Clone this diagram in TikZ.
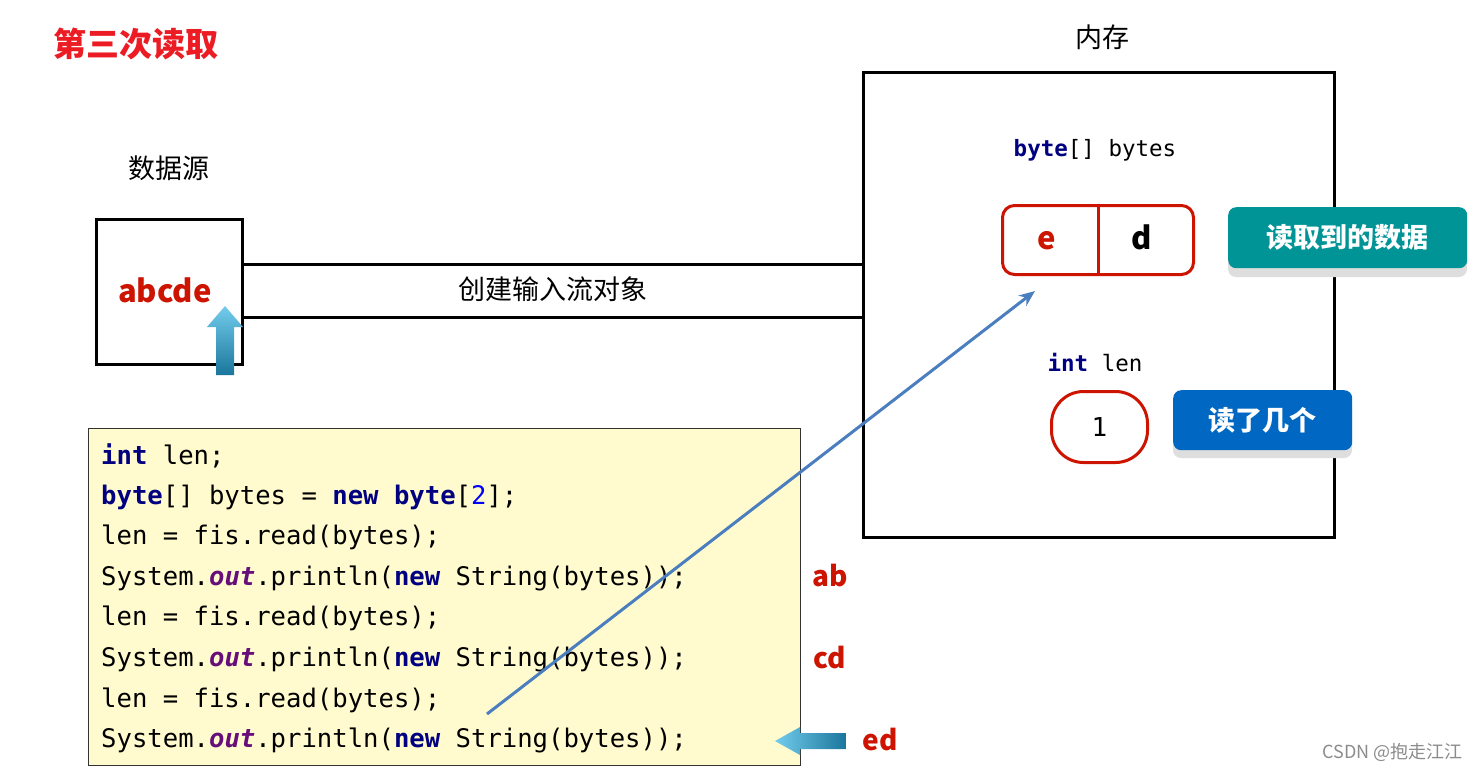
\documentclass[tikz,border=0pt]{standalone}
\usepackage{fontspec}
\setmainfont{Noto Sans CJK SC}
\newfontfamily\monof{DejaVu Sans Mono}
\usetikzlibrary{arrows.meta}
\definecolor{kwblue}{RGB}{0,0,128}
\definecolor{numblue}{RGB}{0,0,255}
\definecolor{outpurple}{RGB}{102,14,122}
\definecolor{codefill}{RGB}{255,251,206}
\definecolor{tealbox}{RGB}{0,148,150}
\definecolor{bluebox}{RGB}{0,104,194}
\definecolor{lineblue}{RGB}{74,126,190}
\definecolor{darkred}{RGB}{204,20,0}
\definecolor{titlered}{RGB}{236,28,36}
\definecolor{arrlight}{RGB}{115,204,236}
\definecolor{arrdark}{RGB}{26,118,156}
\newcommand{\kwd}[1]{{\color{kwblue}\bfseries #1}}
\newcommand{\outk}[1]{{\color{outpurple}\bfseries\itshape #1}}
\tikzset{
  cjktext/.style={font=\fontsize{27}{27}\selectfont, inner sep=0},
  codeline/.style={anchor=west, font=\monof\fontsize{25.6}{25.6}\selectfont, inner sep=0},
  monolabel/.style={font=\monof\fontsize{22.5}{22.5}\selectfont, inner sep=0},
  redlabel/.style={text=darkred, font=\fontsize{28}{28}\selectfont\bfseries, inner sep=0},
  cellchar/.style={anchor=base, font=\fontsize{31}{31}\selectfont\bfseries, inner sep=0},
  tag/.style={rounded corners=8, text=white, font=\fontsize{27}{27}\selectfont\bfseries, inner sep=0},
  shadowbox/.style={fill=black!13, rounded corners=8},
}
\begin{document}
\begin{tikzpicture}[x=1pt,y=-1pt]
\useasboundingbox[fill=white] (0,0) rectangle (1479,772);

% title
\node[anchor=west, text=titlered, font=\fontsize{33}{33}\selectfont\bfseries, inner sep=0] (title) at (53,44) {第三次读取};

% memory
\node[cjktext] (memlabel) at (1102,37) {内存};
\node[draw, line width=3, anchor=north west, minimum width=471, minimum height=465, inner sep=0] (mem) at (862,71) {};

% data source
\node[cjktext] (srclabel) at (169,168) {数据源};
\node[draw, line width=3, anchor=north west, minimum width=146, minimum height=145, inner sep=0] (src) at (95,218) {};
\node[text=darkred, font=\fontsize{31}{31}\selectfont\bfseries, inner sep=0] (abcde) at (165,290) {abcde};

% channel
\coordinate (ct) at (553,264);
\coordinate (cb) at (553,317);
\draw[line width=3] (src.east |- ct) -- (mem.west |- ct);
\draw[line width=3] (src.east |- cb) -- (mem.west |- cb);
\node[cjktext] (chan) at (553,289) {创建输入流对象};

% up arrow
\shade[top color=arrlight, bottom color=arrdark]
  (225,306) -- (243,327) -- (234,327) -- (234,375) -- (216,375) -- (216,327) -- (207,327) -- cycle;

% byte array
\node[monolabel] (bytesdecl) at (1095,150) {\kwd{byte}[] bytes};
\node[draw=darkred, line width=3, rounded corners=12, anchor=north west, minimum width=191, minimum height=69, inner sep=0] (arr) at (1001,204) {};
\draw[darkred, line width=3] (arr.north) -- (arr.south);
\node[cellchar, text=darkred] (ce) at (1047,249) {e};
\node[cellchar, text=black] (cd) at (1142,249) {d};

% len
\node[monolabel] (lendecl) at (1095,363) {\kwd{int} len};
\node[draw=darkred, line width=3, rounded corners=32, anchor=north west, minimum width=96, minimum height=71, inner sep=0] (lenbox) at (1050,390) {};
\node[font=\monof\fontsize{26}{26}\selectfont, inner sep=0] (one) at (lenbox.center) {1};

% tags
\fill[shadowbox] (1228,216) rectangle (1467,277);
\node[tag, fill=tealbox, anchor=north west, minimum width=239, minimum height=61] (tag1) at (1228,207) {读取到的数据};
\fill[shadowbox] (1173,398) rectangle (1352,458);
\node[tag, fill=bluebox, anchor=north west, minimum width=179, minimum height=60] (tag2) at (1173,390) {读了几个};

% code box
\node[draw=black!80, line width=1.2, fill=codefill, anchor=north west, minimum width=712, minimum height=337, inner sep=0] (code) at (88,428) {};
\node[codeline] (l1) at (101,456) {\kwd{int} len;};
\node[codeline] (l2) at (101,497) {\kwd{byte}[] bytes = \kwd{new} \kwd{byte}[{\color{numblue}2}];};
\node[codeline] (l3) at (101,537) {len = fis.read(bytes);};
\node[codeline] (l4) at (101,578) {System.\outk{out}.println(\kwd{new} String(bytes));};
\node[codeline] (l5) at (101,618) {len = fis.read(bytes);};
\node[codeline] (l6) at (101,659) {System.\outk{out}.println(\kwd{new} String(bytes));};
\node[codeline] (l7) at (101,700) {len = fis.read(bytes);};
\node[codeline] (l8) at (101,740) {System.\outk{out}.println(\kwd{new} String(bytes));};

% results
\node[redlabel] (rab) at (830,575) {ab};
\node[redlabel] (rcd) at (830,657) {cd};
\node[redlabel] (red) at (880,739) {ed};

% left arrow
\shade[left color=arrlight, right color=arrdark]
  (775,741) -- (800,727) -- (800,733) -- (846,733) -- (846,749) -- (800,749) -- (800,755) -- cycle;

% pointer line
\coordinate (ls) at (487,714);
\coordinate (le) at (1035,291);
\draw[lineblue, line width=3, -{Stealth[length=16, width=13]}] (ls) -- (le);

% watermark
\node[anchor=east, text=black!45, font=\fontsize{18}{18}\selectfont, inner sep=0] (wm) at (1463,752) {CSDN @抱走江江};
\end{tikzpicture}
\end{document}
